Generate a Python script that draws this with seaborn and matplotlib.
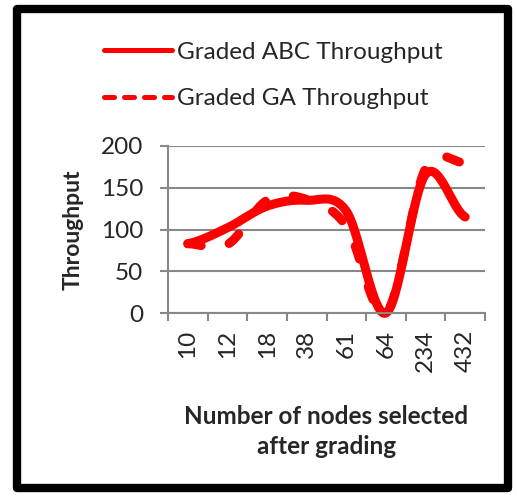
import numpy as np
import pandas as pd
import seaborn as sns
import matplotlib.pyplot as plt
from matplotlib.lines import Line2D
from matplotlib.patches import Rectangle

# values
categories = ['10', '12', '18', '38', '61', '64', '234', '432']
abc_throughput = [83, 102, 128, 135, 122, 0, 166, 115]
ga_throughput = [83, 82, 135, 136, 104, 0, 173, 180]

RED = '#ff0000'
GRID = '#888888'


def smooth_curve(values, steps=40):
    """
    Excel-style smoothed line: cubic Bezier pieces with Catmull-Rom control points
    """
    y = np.asarray(values, dtype=float)
    n = len(y)
    xs, ys = [], []
    for i in range(n - 1):
        y_prev = y[i - 1] if i > 0 else y[i]
        y_next = y[i + 2] if i + 2 < n else y[i + 1]
        c1 = y[i] + (y[i + 1] - y_prev) / 6
        c2 = y[i + 1] - (y_next - y[i]) / 6
        t = np.linspace(0, 1, steps, endpoint=(i == n - 2))
        xs.append(i + t)
        ys.append((1 - t) ** 3 * y[i] + 3 * (1 - t) ** 2 * t * c1
                  + 3 * (1 - t) * t ** 2 * c2 + t ** 3 * y[i + 1])
    return np.concatenate(xs), np.concatenate(ys)


sns.set_style('white')
plt.rcParams['font.family'] = ['Lato', 'DejaVu Sans']

fig = plt.figure(figsize=(5.17, 5.01), dpi=100)
ax = fig.add_axes([168 / 517, 1 - 313 / 501, (485 - 168) / 517, (313 - 146) / 501])

x_abc, y_abc = smooth_curve(abc_throughput)
x_ga, y_ga = smooth_curve(ga_throughput)
curves = pd.DataFrame({'x': x_abc, 'abc': y_abc, 'ga': y_ga})

sns.lineplot(data=curves, x='x', y='abc', ax=ax, color=RED, linewidth=6.5,
             sort=False, solid_capstyle='round', clip_on=False)
sns.lineplot(data=curves, x='x', y='ga', ax=ax, color=RED, linewidth=6.5,
             sort=False, dashes=False, clip_on=False)
ga_line = ax.lines[-1]
ga_line.set_dashes((1.5, 3.2))
ga_line.set_dash_capstyle('round')

ax.set_xlim(-0.5, len(categories) - 0.5)
ax.set_ylim(0, 200)
ax.set_yticks([0, 50, 100, 150, 200])
ax.set_xticks(range(len(categories)))
ax.set_xticklabels(categories, rotation=90)
ax.set_xticks(np.arange(-0.5, len(categories)), minor=True)
ax.tick_params(axis='x', which='major', length=0, pad=12, labelsize=17.5)
ax.tick_params(axis='x', which='minor', length=6, width=1.5, color=GRID, direction='out', bottom=True)
ax.tick_params(axis='y', length=6, width=1.5, color=GRID, direction='out', left=True, pad=12, labelsize=17.5)
ax.yaxis.grid(True, color=GRID, linewidth=1.5)
ax.set_axisbelow(True)
for side in ['top', 'right']:
    ax.spines[side].set_visible(False)
for side in ['left', 'bottom']:
    ax.spines[side].set_color(GRID)
    ax.spines[side].set_linewidth(1.5)

ax.set_xlabel('Number of nodes selected\nafter grading', fontsize=17.5, fontweight='bold', labelpad=24, linespacing=1.35)
ax.set_ylabel('Throughput', fontsize=16.5, fontweight='bold', labelpad=12)

handles = [Line2D([], [], color=RED, linewidth=3.6, solid_capstyle='round'),
           Line2D([], [], color=RED, linewidth=3.6, linestyle=(0, (2, 2)), dash_capstyle='round')]
fig.legend(handles, ['Graded ABC Throughput', 'Graded GA Throughput'], loc='upper left',
           bbox_to_anchor=(82 / 517, 1 - 20 / 501), frameon=False, fontsize=17.5,
           handlelength=2.8, handletextpad=0.2, labelspacing=1.05)

fig.patches.append(Rectangle((17 / 517, 1 - 488 / 501), (508 - 17) / 517, (488 - 9) / 501,
                             transform=fig.transFigure, fill=False, edgecolor='black',
                             linewidth=6, joinstyle='round'))

fig.savefig('out.png', dpi=100)
